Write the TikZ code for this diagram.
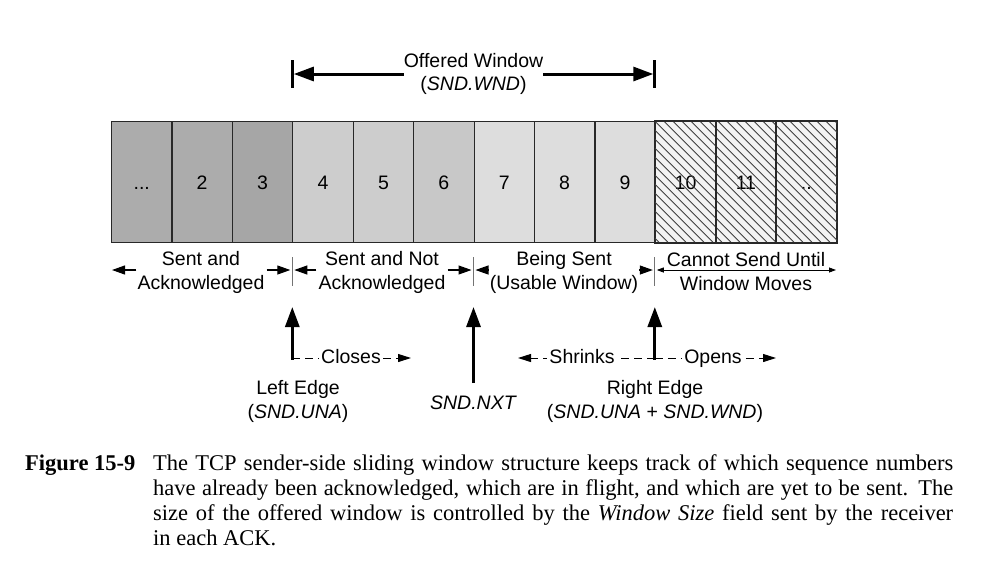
\documentclass[tikz,border=0pt]{standalone}
\usepackage{fontspec}
\newfontfamily\dsans{Liberation Sans}
\newfontfamily\dserif{Liberation Serif}
\usetikzlibrary{arrows.meta}
\definecolor{cdark}{RGB}{172,172,172}
\definecolor{cdarkb}{RGB}{166,166,166}
\definecolor{cmid}{RGB}{205,205,205}
\definecolor{cmidb}{RGB}{200,200,200}
\definecolor{clight}{RGB}{221,221,221}
\definecolor{chatch}{RGB}{244,244,244}
\definecolor{cline}{RGB}{40,40,40}
\begin{document}
\begin{tikzpicture}[x=1pt,y=-1pt,
  lbl/.style={font=\dsans\fontsize{19.5}{24}\selectfont, inner sep=0pt, align=center},
  dlab/.style={lbl, fill=white, inner xsep=2pt, text height=14pt, text depth=4pt},
  cellbox/.style={draw=cline, line width=1.1pt, minimum width=60.42pt, minimum height=121pt,
                  inner sep=0pt, anchor=north west, text height=14pt, text depth=0pt,
                  font=\dsans\fontsize{19.5}{24}\selectfont},
  hatchline/.style={draw=black!75, line width=0.9pt},
  bigarr/.style={line width=3pt, -{Triangle[length=20pt,width=14pt]}},
  regarr/.style={line width=1.1pt, -{Triangle[length=13pt,width=9pt]}},
  thinarr/.style={line width=0.8pt, -{Triangle[length=7pt,width=5pt]}},
  tickline/.style={draw=black!55, line width=0.9pt},
  dasharr/.style={line width=1pt, dash pattern=on 8pt off 5pt},
  dashtip/.style={-{Triangle[length=13pt,width=8pt]}},
  capt/.style={font=\dserif\fontsize{22.5}{25}\selectfont, inner sep=0pt}
]
\useasboundingbox (0,0) rectangle (1001,574);

% ---------- cells ----------
\node[cellbox, fill=cdark]  (c1)  at (111.0,121) {...};
\node[cellbox, fill=cdark]  (c2)  at (171.4,121) {2};
\node[cellbox, fill=cdarkb] (c3)  at (231.8,121) {3};
\node[cellbox, fill=cmid]   (c4)  at (292.3,121) {4};
\node[cellbox, fill=cmid]   (c5)  at (352.7,121) {5};
\node[cellbox, fill=cmidb]  (c6)  at (413.1,121) {6};
\node[cellbox, fill=clight] (c7)  at (473.5,121) {7};
\node[cellbox, fill=clight] (c8)  at (533.9,121) {8};
\node[cellbox, fill=clight] (c9)  at (594.4,121) {9};
\node[cellbox, fill=chatch] (c10) at (654.8,121) {10};
\node[cellbox, fill=chatch] (c11) at (715.2,121) {11};
\node[cellbox, fill=chatch] (c12) at (775.6,121) {..};
\begin{scope}
  \clip (c10.north west) rectangle (c12.south east);
  \foreach \k in {-15,...,21}
    \draw[hatchline] ({654.8+\k*9},121) -- ++(121,121);
\end{scope}
\foreach \i in {10,11,12}
  \draw[draw=cline, line width=1.1pt] (c\i.north west) rectangle (c\i.south east);

% ---------- offered window ----------
\coordinate (owL) at (292.3,74);
\coordinate (owR) at (654.8,74);
\node[lbl] (ow) at (473.5,61) {Offered Window};
\node[lbl] (owsub) at (473.5,85) {(\textit{SND.WND})};
\draw[line width=3pt] ([yshift=14pt]owL) -- ([yshift=-14pt]owL);
\draw[line width=3pt] ([yshift=14pt]owR) -- ([yshift=-14pt]owR);
\draw[bigarr] (owL -| ow.west) -- ([xshift=1.5pt]owL);
\draw[bigarr] (owR -| ow.east) -- ([xshift=-1.5pt]owR);

% ---------- region labels ----------
\node[lbl] (r1) at (201,272) {Sent and\\Acknowledged};
\node[lbl] (r2) at (382,272) {Sent and Not\\Acknowledged};
\node[lbl] (r3) at (564,272) {Being Sent\\(Usable Window)};
\node[lbl] (r4) at (746,272) {Cannot Send Until\\Window Moves};
\coordinate (L0) at (112,270);
\coordinate (L1) at (292.3,270);
\coordinate (L2) at (473.5,270);
\coordinate (L3) at (654.8,270);
\coordinate (L4) at (836,270);
\foreach \b in {L1,L2,L3}
  \draw[tickline] ([yshift=13pt]\b) -- ([yshift=-16pt]\b);
\draw[regarr] ([xshift=-1pt]r1.west |- L0) -- (L0);
\draw[regarr] ([xshift=2pt]r1.east |- L1) -- ([xshift=-2pt]L1);
\draw[regarr] ([xshift=-2pt]r2.west |- L1) -- ([xshift=2pt]L1);
\draw[regarr] ([xshift=2pt]r2.east |- L2) -- ([xshift=-2pt]L2);
\draw[regarr] ([xshift=-1pt]r3.west |- L2) -- ([xshift=2pt]L2);
\draw[regarr] ([xshift=1pt]r3.east |- L3) -- ([xshift=-2pt]L3);
\draw[thinarr] ([xshift=12pt]L3) -- ([xshift=2pt]L3);
\draw[thinarr] ([xshift=12pt]L3) -- (L4);

% ---------- edges ----------
\coordinate (leB) at (292.3,358);
\coordinate (leT) at (292.3,307);
\coordinate (nxB) at (473.5,383);
\coordinate (nxT) at (473.5,307);
\coordinate (reB) at (654.8,358);
\coordinate (reT) at (654.8,307);
\coordinate (clE) at (411,358);
\coordinate (shE) at (518,358);
\coordinate (opE) at (776,358);

\draw[dasharr, dashtip] (leB) -- (clE);
\node[dlab] (closes) at (351,358) {Closes};
\draw[dasharr, dashtip] (reB) -- (shE);
\draw[dasharr, dashtip] (reB) -- (opE);
\node[dlab] (shrinks) at (582,358) {Shrinks};
\node[dlab] (opens) at (713,358) {Opens};

\draw[bigarr] ([yshift=-1.5pt]leB) -- (leT);
\draw[bigarr] (nxB) -- (nxT);
\draw[bigarr] ([yshift=-1.5pt]reB) -- (reT);

\node[lbl] (leftedge) at (298,401) {Left Edge\\(\textit{SND.UNA})};
\node[lbl] (sndnxt) at (473.5,403) {\textit{SND.NXT}};
\node[lbl] (rightedge) at (655,401) {Right Edge\\(\textit{SND.UNA} + \textit{SND.WND})};

% ---------- caption ----------
\node[capt, anchor=base west] (fig) at (25,470) {\bfseries Figure 15-9};
\node[capt, anchor=base west] (cap1) at (153,470)
  {\makebox[800pt][s]{The TCP sender-side sliding window structure keeps track of which sequence numbers}};
\node[capt, anchor=base west] (cap2) at (153,495)
  {\makebox[800pt][s]{have already been acknowledged, which are in flight, and which are yet to be sent. The}};
\node[capt, anchor=base west] (cap3) at (153,520)
  {\makebox[800pt][s]{size of the offered window is controlled by the \textit{Window Size} field sent by the receiver}};
\node[capt, anchor=base west] (cap4) at (153,545) {in each ACK.};
\end{tikzpicture}
\end{document}
